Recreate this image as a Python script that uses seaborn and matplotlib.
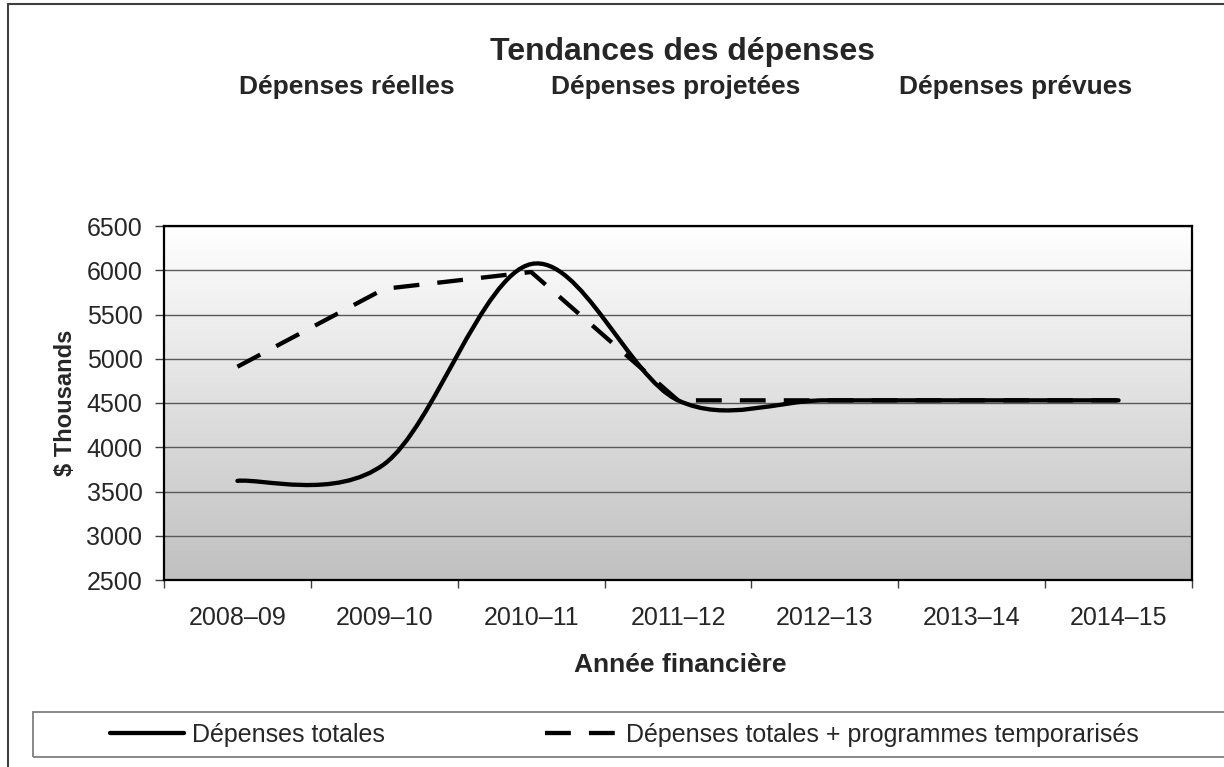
import numpy as np
import pandas as pd
import matplotlib
matplotlib.use("Agg")
import matplotlib.pyplot as plt
import seaborn as sns
from matplotlib.path import Path
from matplotlib.patches import PathPatch, Rectangle
from matplotlib.lines import Line2D
from matplotlib.colors import LinearSegmentedColormap

# data ($ thousands)
years = ["2008–09", "2009–10", "2010–11", "2011–12", "2012–13", "2013–14", "2014–15"]
depenses_totales = [3620, 3810, 6070, 4530, 4530, 4530, 4530]
depenses_temporarisees = [4910, 5790, 5980, 4530, 4530, 4530, 4530]
periodes = ["Dépenses réelles", "Dépenses projetées", "Dépenses prévues"]
series_labels = ["Dépenses totales", "Dépenses totales + programmes temporarisés"]

sns.set_style("white")
plt.rcParams["font.family"] = ["Liberation Sans", "DejaVu Sans"]

df = pd.DataFrame({
    "annee": years,
    "pos": np.arange(len(years)),
    "totales": depenses_totales,
    "temporarisees": depenses_temporarisees,
})

W, H = 1224, 767
fig = plt.figure(figsize=(W / 100, H / 100), dpi=100)
ax = fig.add_axes([164 / W, 1 - 580 / H, (1192 - 164) / W, (580 - 226) / H])

# excel-like gradient fill of the plot area
fond = LinearSegmentedColormap.from_list("fond", ["#c0c0c0", "#ffffff"])
ax.imshow(np.linspace(0, 1, 256).reshape(-1, 1), cmap=fond, origin="lower",
          extent=(0, 1, 0, 1), transform=ax.transAxes, aspect="auto", zorder=0)


def smooth_path(xs, ys):
    # excel style smoothed line (catmull-rom as cubic bezier through the points)
    n = len(xs)
    verts = [(xs[0], ys[0])]
    codes = [Path.MOVETO]
    for i in range(n - 1):
        a = max(i - 1, 0)
        b = min(i + 2, n - 1)
        c1 = (xs[i] + (xs[i + 1] - xs[a]) / 6, ys[i] + (ys[i + 1] - ys[a]) / 6)
        c2 = (xs[i + 1] - (xs[b] - xs[i]) / 6, ys[i + 1] - (ys[b] - ys[i]) / 6)
        verts += [c1, c2, (xs[i + 1], ys[i + 1])]
        codes += [Path.CURVE4] * 3
    return Path(verts, codes)


lw = 3.1
dash = (0, (6.0, 4.2))
ax.add_patch(PathPatch(smooth_path(df["pos"].values, df["totales"].values),
                       fill=False, color="black", lw=lw, capstyle="round",
                       joinstyle="round", zorder=3))
sns.lineplot(data=df, x="pos", y="temporarisees", ax=ax, color="black",
             lw=lw, linestyle=dash, zorder=4)

ax.set_xlim(-0.5, len(years) - 0.5)
ax.set_ylim(2500, 6500)
ax.set_yticks(range(2500, 6501, 500))
ax.yaxis.grid(True, color="#5a5a5a", lw=1.0)
ax.xaxis.grid(False)

ax.set_xticks(df["pos"])
ax.set_xticklabels(years)
ax.set_xticks(np.arange(-0.5, len(years)), minor=True)
ax.tick_params(axis="x", which="major", length=0, labelsize=18, pad=19)
ax.tick_params(axis="x", which="minor", bottom=True, length=5.5, width=1,
               color="#404040", direction="out")
ax.tick_params(axis="y", left=True, length=6.5, width=1, color="#404040",
               direction="out", labelsize=18, pad=9)

for s in ax.spines.values():
    s.set_visible(True)
    s.set_color("black")
    s.set_linewidth(1.6)

ax.set_xlabel("Année financière", fontsize=19, fontweight="bold")
ax.xaxis.set_label_coords((680 - 164) / 1028, -0.205)
ax.set_ylabel("$ Thousands", fontsize=17, fontweight="bold")
ax.yaxis.set_label_coords((77 - 164) / 1028, 0.5)

fig.text(683 / W, 1 - 60 / H, "Tendances des dépenses", ha="center",
         va="baseline", fontsize=23, fontweight="bold")
for txt, cx in zip(periodes, [347, 676, 1016]):
    fig.text(cx / W, 1 - 94 / H, txt, ha="center", va="baseline",
             fontsize=19, fontweight="bold")

handles = [Line2D([], [], color="black", lw=lw),
           Line2D([], [], color="black", lw=lw, linestyle=dash)]
fig.legend(handles, series_labels, loc="center left",
           bbox_to_anchor=(110 / W, 1 - 735 / H), ncol=2, frameon=False,
           fontsize=18, handlelength=2.95, handletextpad=0.32,
           columnspacing=6.4, borderpad=0, borderaxespad=0)
fig.add_artist(Rectangle((33 / W, 1 - 757 / H), (1240 - 33) / W, 45 / H,
                         transform=fig.transFigure, fill=False,
                         edgecolor="#7f7f7f", lw=1.3))

# outer chart frame (runs off the right and bottom edges)
fig.add_artist(Line2D([8 / W, 8 / W], [0, 1 - 4 / H], transform=fig.transFigure,
                      color="#404040", lw=1.5))
fig.add_artist(Line2D([8 / W, 1], [1 - 4 / H, 1 - 4 / H], transform=fig.transFigure,
                      color="#404040", lw=1.5))

fig.savefig("out.png", dpi=100)
